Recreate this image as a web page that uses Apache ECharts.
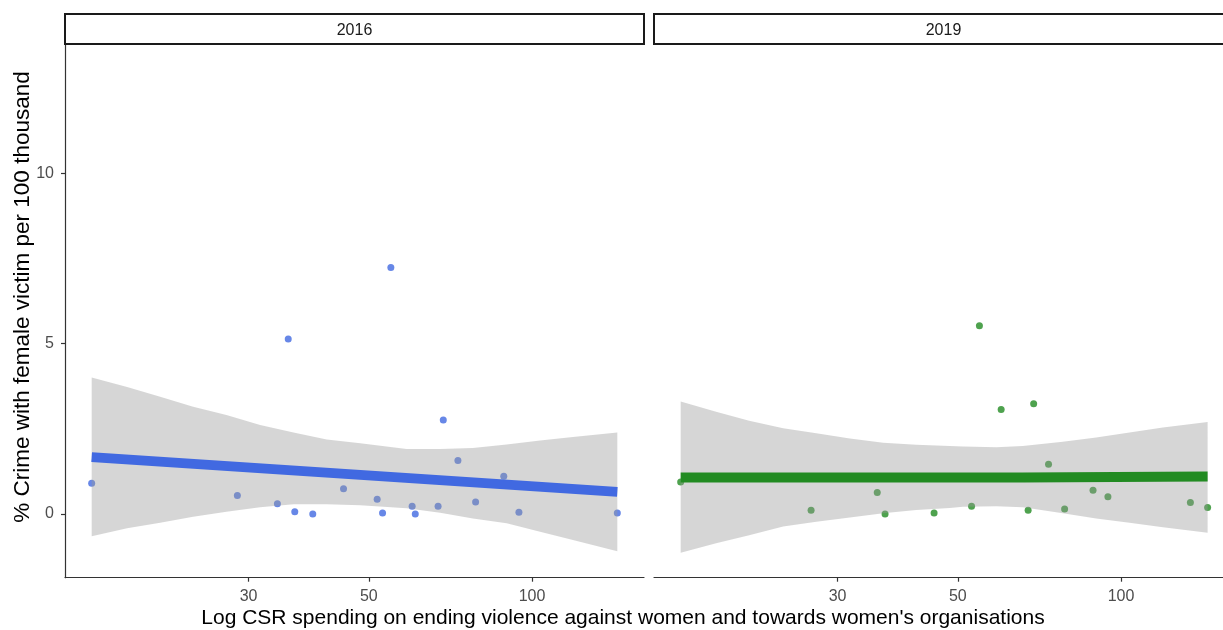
<!DOCTYPE html>
<html>
<head>
<meta charset="utf-8">
<script src="https://cdn.jsdelivr.net/npm/echarts@6/dist/echarts.min.js"></script>
<style>
  html, body { margin: 0; padding: 0; overflow: hidden; background: #fff; }
  #chart { width: 1240px; height: 630px; }
</style>
</head>
<body>
<div id="chart"></div>
<script>
// Facet labels
const years = ['2016', '2019'];

// Tick labels
const xTicks = [30, 50, 100];
const yTicks = [0, 5, 10];

// Observations: CSR spending (log scale) vs % crime with female victim
const spend2016 = [15.4, 28.6, 33.9, 35.5, 36.5, 39.4, 44.9, 51.8, 53.0, 54.9, 60.1, 60.9, 67.1, 68.6, 73.0, 78.7, 88.7, 94.6, 143.7];
const crime2016 = [0.90, 0.54, 0.30, 5.14, 0.07, 0.00, 0.74, 0.43, 0.03, 7.24, 0.23, 0.00, 0.23, 2.76, 1.57, 0.35, 1.11, 0.05, 0.03];

const spend2019 = [15.4, 26.8, 35.5, 36.7, 45.2, 53.0, 54.8, 60.1, 67.4, 69.0, 73.5, 78.7, 88.8, 94.6, 134.3, 144.5];
const crime2019 = [0.94, 0.11, 0.63, 0.00, 0.03, 0.23, 5.53, 3.07, 0.11, 3.24, 1.46, 0.15, 0.70, 0.51, 0.34, 0.19];

// Fitted trend lines
const fitX2016 = [15.4, 143.7];
const fitY2016 = [1.67, 0.65];
const fitX2019 = [15.4, 65.9, 65.9, 144.5];
const fitY2019 = [1.07, 1.07, 1.10, 1.10];

// Confidence bands around the fits
const bandX2016 = [15.4, 17.9, 20.6, 23.7, 27.3, 31.5, 36.3, 41.8, 48.2, 58.7, 67.7, 77.8, 89.8, 103.5, 119.0, 143.7];
const bandLo2016 = [-0.65, -0.42, -0.26, -0.08, 0.07, 0.20, 0.29, 0.29, 0.26, 0.17, 0.04, -0.13, -0.27, -0.52, -0.76, -1.09];
const bandHi2016 = [4.01, 3.73, 3.44, 3.15, 2.91, 2.61, 2.39, 2.19, 2.08, 1.91, 1.91, 1.94, 2.04, 2.16, 2.26, 2.39];

const bandX2019 = [15.4, 17.9, 20.6, 23.8, 27.4, 31.6, 36.4, 41.9, 48.3, 51.1, 58.9, 65.9, 78.1, 90.0, 103.7, 119.5, 144.5];
const bandLo2019 = [-1.14, -0.86, -0.62, -0.37, -0.23, -0.10, 0.02, 0.12, 0.18, 0.21, 0.23, 0.20, 0.02, -0.13, -0.26, -0.39, -0.55];
const bandHi2019 = [3.30, 3.00, 2.74, 2.52, 2.37, 2.22, 2.09, 2.03, 2.00, 1.98, 1.96, 2.00, 2.12, 2.25, 2.39, 2.54, 2.70];

const FONT = '"Liberation Sans", Arial, Helvetica, sans-serif';
const AXIS_COLOR = '#333333';
const TICK_TEXT = '#4d4d4d';
const BAND_FILL = 'rgba(153,153,153,0.4)';

const panels = [
  { year: years[0], color: '#4169E1', xs: spend2016, ys: crime2016, fx: fitX2016, fy: fitY2016, bx: bandX2016, blo: bandLo2016, bhi: bandHi2016 },
  { year: years[1], color: '#228B22', xs: spend2019, ys: crime2019, fx: fitX2019, fy: fitY2019, bx: bandX2019, blo: bandLo2019, bhi: bandHi2019 }
];

const PANEL_TOP = 44, PANEL_H = 533.7, PANEL_W = 579;
const panelLeft = [65, 654];

const zip = (a, b) => a.map((v, i) => [v, b[i]]);

const grids = panelLeft.map(l => ({ left: l, top: PANEL_TOP, width: PANEL_W, height: PANEL_H, outerBoundsMode: 'none', containLabel: false }));

const xAxes = panels.map((p, i) => ({
  type: 'log', logBase: 10, gridIndex: i,
  min: 13.75, max: 160.95,
  axisLine: { show: true, onZero: false, lineStyle: { color: AXIS_COLOR, width: 1.2 } },
  axisTick: { show: true, length: 4, customValues: xTicks, lineStyle: { color: AXIS_COLOR, width: 1.2 } },
  axisLabel: { customValues: xTicks, color: TICK_TEXT, fontSize: 16, fontFamily: FONT, margin: 11 },
  splitLine: { show: false }, minorTick: { show: false }, minorSplitLine: { show: false }
}));

const yAxes = panels.map((p, i) => ({
  type: 'value', gridIndex: i,
  min: -1.87, max: 13.8,
  axisLine: { show: i === 0, onZero: false, lineStyle: { color: AXIS_COLOR, width: 1.2 } },
  axisTick: { show: i === 0, length: 4, customValues: yTicks, lineStyle: { color: AXIS_COLOR, width: 1.2 } },
  axisLabel: { show: i === 0, customValues: yTicks, color: TICK_TEXT, fontSize: 16, fontFamily: FONT, margin: 11 },
  splitLine: { show: false }
}));

const series = [];
panels.forEach((p, i) => {
  // raw observations (under the band)
  series.push({
    type: 'scatter', xAxisIndex: i, yAxisIndex: i, z: 1,
    symbol: 'circle', symbolSize: 7,
    itemStyle: { color: p.color },
    data: zip(p.xs, p.ys), silent: true
  });
  // confidence band polygon
  series.push({
    type: 'custom', xAxisIndex: i, yAxisIndex: i, z: 2, silent: true, clip: false,
    data: p.bx.map((x, k) => [x, p.blo[k], p.bhi[k]]),
    encode: { x: 0, y: [1, 2] },
    renderItem: (params, api) => {
      if (params.dataIndex !== 0) return null;
      const pts = [];
      for (let k = 0; k < p.bx.length; k++) pts.push(api.coord([p.bx[k], p.bhi[k]]));
      for (let k = p.bx.length - 1; k >= 0; k--) pts.push(api.coord([p.bx[k], p.blo[k]]));
      return { type: 'polygon', shape: { points: pts }, style: { fill: BAND_FILL } };
    }
  });
  // fitted line
  series.push({
    type: 'line', xAxisIndex: i, yAxisIndex: i, z: 3, silent: true,
    symbol: 'none', data: zip(p.fx, p.fy),
    lineStyle: { color: p.color, width: 10, cap: 'butt' }
  });
});

const graphic = [];
panels.forEach((p, i) => {
  graphic.push({
    type: 'rect', z: 10,
    shape: { x: panelLeft[i], y: 14, width: PANEL_W, height: 30 },
    style: { fill: '#ffffff', stroke: '#1a1a1a', lineWidth: 2 }
  });
  graphic.push({
    type: 'text', z: 11,
    x: panelLeft[i] + PANEL_W / 2, y: 31,
    style: { text: p.year, fill: '#1a1a1a', font: '16px ' + FONT, textAlign: 'center', textVerticalAlign: 'middle' }
  });
});
graphic.push({
  type: 'text', z: 11, x: 623, y: 618,
  style: { text: 'Log CSR spending on ending violence against women and towards women\'s organisations', fill: '#000', font: '21px ' + FONT, textAlign: 'center', textVerticalAlign: 'middle' }
});
graphic.push({
  type: 'text', z: 11, x: 23, y: 297, rotation: Math.PI / 2,
  style: { text: '% Crime with female victim per 100 thousand', fill: '#000', font: '22.5px ' + FONT, textAlign: 'center', textVerticalAlign: 'middle' }
});

const chart = echarts.init(document.getElementById('chart'), null, { renderer: 'canvas' });
chart.setOption({
  animation: false,
  backgroundColor: '#ffffff',
  grid: grids,
  xAxis: xAxes,
  yAxis: yAxes,
  series: series,
  graphic: graphic
});
</script>
</body>
</html>
